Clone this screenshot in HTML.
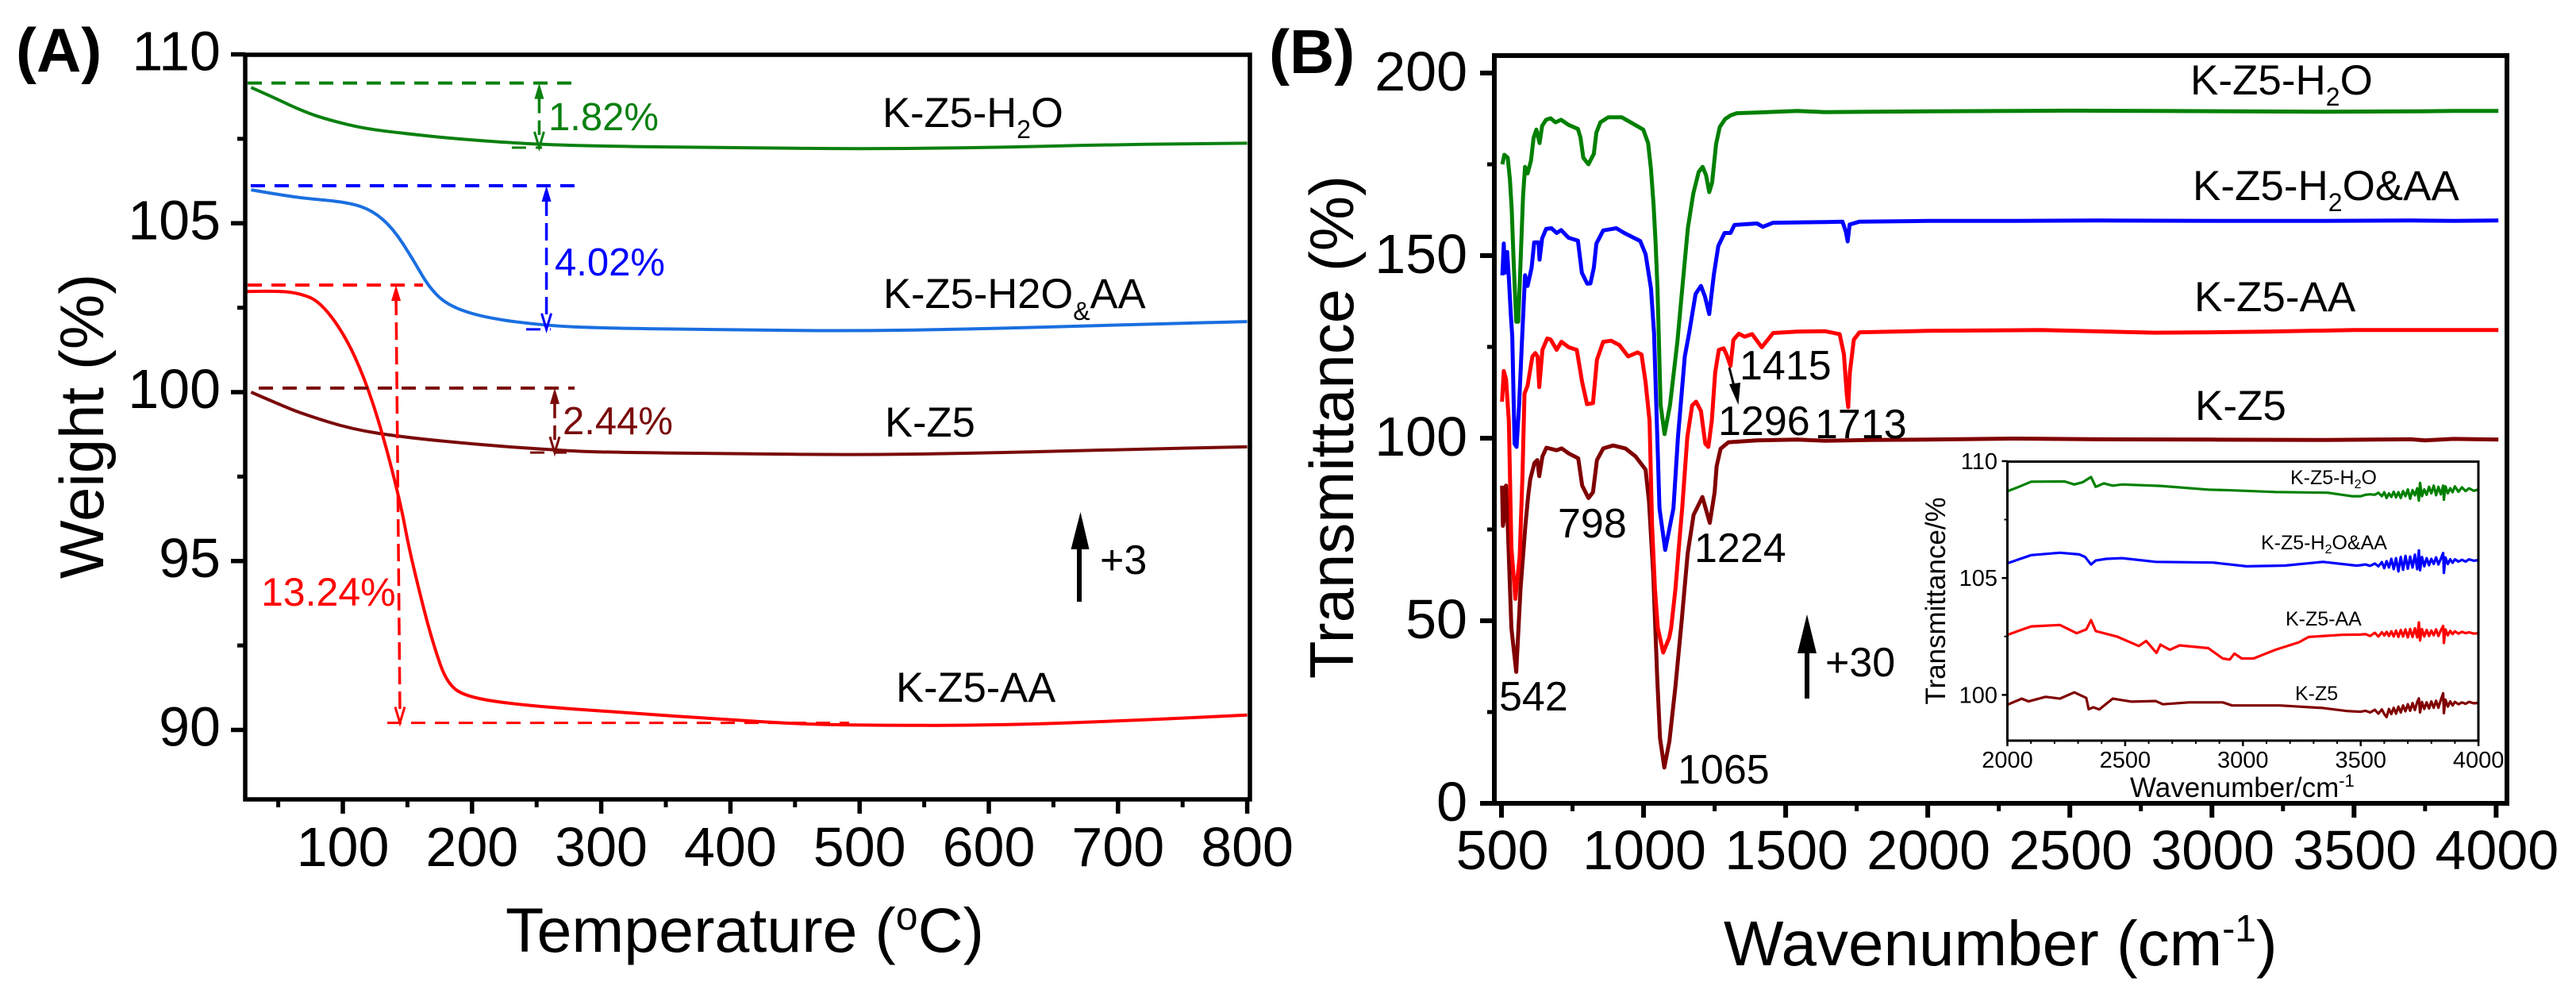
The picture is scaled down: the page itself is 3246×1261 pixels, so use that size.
<!DOCTYPE html>
<html lang="en">
<head>
<meta charset="utf-8">
<title>TGA and FTIR spectra of K-Z5 samples</title>
<style>
html,body{margin:0;padding:0;background:#fff;}
svg{display:block;}
text{font-family:"Liberation Sans",sans-serif;}
</style>
</head>
<body>
<svg id="figure" xmlns="http://www.w3.org/2000/svg" width="3246" height="1261" viewBox="0 0 3246 1261">
  <rect width="3246" height="1261" fill="#fff"/>

  <g id="panelA"></g>
  <g id="panelB"></g>
  <g id="inset"></g>

  <text x="20" y="90" font-size="78" font-weight="bold">(A)</text>
  <text x="1599" y="92" font-size="78" font-weight="bold">(B)</text>

  <text x="637" y="1199" font-size="79">Temperature (<tspan font-size="50" dy="-28">o</tspan><tspan dy="28">C)</tspan></text>
  <text transform="translate(130 537) rotate(-90)" text-anchor="middle" font-size="78">Weight (%)</text>
  <text x="2172" y="1216" font-size="80">Wavenumber (cm<tspan font-size="48" dy="-30">-1</tspan><tspan dy="30">)</tspan></text>
  <text transform="translate(1705 538) rotate(-90)" text-anchor="middle" font-size="78">Transmittance (%)</text>

  <text x="1112" y="160" font-size="52.5">K-Z5-H<tspan font-size="32" dy="14">2</tspan><tspan dy="-14">O</tspan></text>
  <text x="1113" y="388" font-size="52.5">K-Z5-H2O<tspan font-size="32" dy="15">&amp;</tspan><tspan dy="-15">AA</tspan></text>
  <text x="1115" y="550" font-size="52.5">K-Z5</text>
  <text x="1129" y="884" font-size="52.5">K-Z5-AA</text>

  <text x="691" y="164" font-size="49" fill="#0a8010">1.82%</text>
  <text x="699" y="347" font-size="49" fill="#0000ff">4.02%</text>
  <text x="709" y="547" font-size="49" fill="#7a0a0a">2.44%</text>
  <text x="329" y="763" font-size="50" fill="#ff0000">13.24%</text>

  <text x="1386" y="723" font-size="52">+3</text>
  <path d="M1360 758V685" stroke="#000" stroke-width="6" fill="none"/>
  <polygon points="1361.5,645 1372.5,692 1349.5,692" fill="#000"/>

  <text x="2760" y="119" font-size="53">K-Z5-H<tspan font-size="32" dy="14">2</tspan><tspan dy="-14">O</tspan></text>
  <text x="2763" y="252" font-size="53">K-Z5-H<tspan font-size="32" dy="14">2</tspan><tspan dy="-14">O&amp;AA</tspan></text>
  <text x="2765" y="392" font-size="53">K-Z5-AA</text>
  <text x="2766" y="529" font-size="53">K-Z5</text>

  <text x="2192" y="478" font-size="52">1415</text>
  <text x="2165" y="548" font-size="52">1296</text>
  <text x="2287" y="552" font-size="52">1713</text>
  <text x="1963" y="677" font-size="52">798</text>
  <text x="2135" y="708" font-size="52">1224</text>
  <text x="1889" y="895" font-size="52">542</text>
  <text x="2114" y="987" font-size="52">1065</text>
  <path d="M2179 463L2186 490" stroke="#000" stroke-width="3" fill="none"/>
  <polygon points="2190.5,510 2179,484 2193,482" fill="#000"/>

  <text x="2300" y="852" font-size="52">+30</text>
  <path d="M2277 880V820" stroke="#000" stroke-width="6" fill="none"/>
  <polygon points="2277,774 2289,823 2265,823" fill="#000"/>

  <text x="2684" y="1004" font-size="35">Wavenumber/cm<tspan font-size="22" dy="-13">-1</tspan></text>
  <text transform="translate(2451 757) rotate(-90)" text-anchor="middle" font-size="35">Transmittance/%</text>
  <text x="2886" y="610" font-size="25">K-Z5-H<tspan font-size="16" dy="5">2</tspan><tspan dy="-5">O</tspan></text>
  <text x="2849" y="692" font-size="25">K-Z5-H<tspan font-size="16" dy="5">2</tspan><tspan dy="-5">O&amp;AA</tspan></text>
  <text x="2880" y="788" font-size="25">K-Z5-AA</text>
  <text x="2892" y="882" font-size="25">K-Z5</text>
</svg>

<script>
// ---------- Panel A: TGA ----------
const tgaTicksX = [100,200,300,400,500,600,700,800];
const tgaMinorX = [50,150,250,350,450,550,650,750];
const tgaTicksY = [90,95,100,105,110];
const tgaMinorY = [92.5,97.5,102.5,107.5];

const tgaGreenT = [29,45,70,90,117,150,179,215,251,300,400,500,600,700,800];
const tgaGreenW = [109.02,108.75,108.3,108.05,107.8,107.65,107.53,107.42,107.34,107.28,107.24,107.2,107.24,107.33,107.37];
const tgaBlueT = [29,50,70,104,123,139,154,167,182,210,257,300,400,500,600,700,800];
const tgaBlueW = [105.99,105.85,105.74,105.62,105.38,104.84,103.95,103.08,102.55,102.2,101.97,101.9,101.84,101.81,101.88,101.99,102.09];
const tgaRedT = [26,48,66,82,101,117,131,145,151,160,170,181,198,242,314,400,450,500,600,700,800];
const tgaRedW = [102.98,103,102.93,102.69,101.73,100.4,98.75,96.65,95.42,93.97,92.53,91.33,90.95,90.72,90.52,90.3,90.18,90.14,90.13,90.26,90.44];
const tgaMaroonT = [29,50,70,107,148,210,267,300,400,500,600,700,800];
const tgaMaroonW = [100,99.65,99.34,98.9,98.66,98.43,98.28,98.22,98.18,98.14,98.2,98.3,98.38];

// mass-loss annotation levels (°C, %)
const lossNames = ['h2o','h2o-aa','aa','k-z5'];
const lossColors = ['#0a8010','#0000ff','#ff0000','#7a0a0a'];
const lossTopW = [109.15,106.11,103.17,100.12];
const lossLowW = [107.24,101.86,90.21,98.21];
const lossTopFrom = [26.3,28.7,26.3,34.9];
const lossTopTo = [279.4,279.4,162,279.4];
const lossLowFrom = [230.8,241.9,134.4,245];
const lossLowTo = [254.2,260.9,491.9,273.2];
const lossArrowTopT = [252,257.6,141.2,264];
const lossArrowLowT = [252,257.6,144.2,264];

// ---------- Panel B: FTIR ----------
const ftirTicksX = [500,1000,1500,2000,2500,3000,3500,4000];
const ftirMinorX = [750,1250,1750,2250,2750,3250,3750];
const ftirTicksY = [0,50,100,150,200];
const ftirMinorY = [25,75,125,175];

const ftirGreenWave = [503,510,522,530,536,543,552,559,567,576,583,592,604,613,623,634,643,657,673,690,710,736,769,778,788,806,825,834,848,876,923,970,999,1016,1026,1035,1042,1049,1054,1060,1074,1093,1119,1136,1156,1175,1194,1208,1220,1231,1241,1255,1268,1287,1306,1328,1399,1541,1638,1800,2000,2300,2500,2800,3100,3400,3700,3850,4008];
const ftirGreenT = [175,177.6,176.8,170.7,162.7,148,131.9,131.9,148,166.3,174.3,172.5,176,182.3,184.5,180.8,185.5,187.2,187.6,186.5,187.2,185.8,184.7,182.3,176.8,175,177.9,183.7,186.5,187.9,187.9,185.8,184.5,180.8,173.6,164.1,154,141,126.5,109.1,101.1,109.1,126.5,141,157.6,167,172.9,174.3,172,167.4,170,180.5,185.2,187.4,188.4,189,189.2,189.6,189.3,189.4,189.5,189.6,189.7,189.6,189.5,189.4,189.5,189.6,189.6];

const ftirBlueWave = [503,508,512,520,526,533,538,546,553,562,573,583,592,606,615,630,634,643,657,676,694,710,736,769,783,802,813,825,834,858,904,932,988,1007,1026,1037,1043,1050,1056,1076,1105,1121,1145,1160,1183,1202,1216,1231,1247,1263,1285,1306,1320,1399,1420,1456,1638,1700,1712,1718,1725,1760,2000,2300,2600,3000,3400,3700,3850,4008];
const ftirBlueT = [144.6,153.3,145.3,151,143.8,133.7,127.9,98.5,97.6,109.1,127.9,144.6,141.7,146.7,153.6,153.6,148.9,154.7,157.3,157.5,156.2,157,154.9,154.1,145.3,142.3,142.4,146.7,153.3,156.9,157.5,156.2,154,150.4,141,128.6,113.6,95.8,80.8,69.4,80.8,100.3,122.4,128.6,139.5,141.7,138.8,134,144.6,152.6,156.2,156.2,158.4,158.8,157.9,159,159.2,159.3,156.5,153.9,158.5,159.3,159.5,159.5,159.6,159.5,159.5,159.6,159.5,159.6];

const ftirRedWave = [502,508,516,526,535,549,564,574,581,592,609,619,627,633,644,661,673,694,711,737,765,784,801,822,836,858,886,915,946,979,993,1007,1021,1030,1040,1050,1069,1090,1097,1112,1128,1136,1154,1171,1185,1202,1217,1228,1240,1252,1265,1282,1292,1306,1316,1335,1356,1382,1416,1456,1541,1638,1690,1705,1715,1720,1726,1740,1760,2000,2400,2800,3000,3190,3500,3800,4008];
const ftirRedT = [110,118.4,116.2,104.7,70,56,67.5,90,112.2,114.4,122.4,123.3,122.4,114,124.2,127.3,127,124.2,126.4,124.9,124.2,115.3,109.3,109.6,121.5,126.4,126.7,125.5,122.4,123.5,122.9,115.3,104.7,76,58.7,48,41.3,45.3,48,58.7,73.7,81,100.3,109,110,107.4,98.5,97.6,104.7,118,124.2,124.6,122.9,119.8,126.9,128.6,127.8,128.5,124.9,128.8,129.2,129.3,128.5,123,112,108.5,118,127,129,129.4,129.6,128.9,129,129.2,129.6,129.6,129.6];

const ftirMaroonWave = [502,505,509,516,522,535,552,567,584,594,601,616,626,633,644,658,694,712,737,770,784,806,822,836,858,893,936,972,1007,1019,1034,1048,1058,1073,1091,1112,1134,1155,1176,1207,1233,1250,1257,1271,1299,1399,1541,1638,1800,2000,2300,2600,3000,3400,3700,3750,3850,4008];
const ftirMaroonT = [87,76,78,87,76,48,36,58.7,76,84.3,88.7,93.2,94,89.6,95,97.4,96.7,97.2,95.8,94.5,87,83.6,85.2,94,97.2,98,97.2,95,91.4,82.6,63,34.6,17.8,9.8,17,32,49.8,68.4,79,83.9,76.8,85.2,92.3,97.1,98.9,99.4,99.6,99.3,99.5,99.6,99.9,99.7,99.6,99.5,99.7,99.4,99.8,99.6];

// ---------- Inset: FTIR 2000-4000 ----------
const insetTicksX = [2000,2500,3000,3500,4000];
const insetMinorX = [2100,2200,2300,2400,2600,2700,2800,2900,3100,3200,3300,3400,3600,3700,3800,3900];
const insetTicksY = [100,105,110];
const insetMinorY = [102.5,107.5];

const insetGreenBodyWave = [2000,2041,2101,2243,2284,2320,2355,2375,2410,2447,2487,2650,2853,2954,3137,3360,3462];
const insetGreenBodyT = [108.71,108.87,109.12,109.13,109,109.1,109.32,108.9,109.05,108.95,109,108.94,108.78,108.75,108.68,108.65,108.5];
const insetBlueBodyWave = [2000,2101,2223,2305,2330,2355,2375,2420,2487,2630,2873,3015,3177,3340,3482];
const insetBlueBodyT = [105.63,105.98,106.08,106.01,105.9,105.58,105.75,105.82,105.85,105.69,105.66,105.5,105.53,105.69,105.53];
const insetRedBodyWave = [2000,2101,2223,2294,2335,2355,2375,2467,2558,2589,2633,2650,2690,2731,2853,2914,2944,2964,2995,3045,3137,3238,3279,3421];
const insetRedBodyT = [102.57,102.93,102.99,102.64,102.8,103.2,102.73,102.49,102.09,102.31,101.8,102.15,101.93,102.12,102,101.56,101.51,101.77,101.56,101.56,101.93,102.25,102.48,102.57];
const insetMaroonBodyWave = [2000,2061,2090,2162,2223,2284,2335,2345,2365,2390,2447,2528,2629,2660,2771,2914,2954,3157,3340,3441];
const insetMaroonBodyT = [99.58,99.84,99.72,99.92,99.84,100.11,99.87,99.39,99.47,99.38,99.84,99.71,99.74,99.6,99.68,99.68,99.55,99.55,99.44,99.31];

const insetTailWave = [3500,3520,3540,3560,3575,3590,3600,3610,3620,3630,3640,3650,3660,3670,3680,3690,3700,3710,3720,3730,3740,3747,3752,3760,3770,3780,3790,3800,3810,3820,3830,3840,3850,3853,3860,3870,3880,3890,3900,3915,3930,3945,3960,3980,4000];
const insetGreenTailT = [108.50,108.56,108.58,108.56,108.65,108.50,108.67,108.42,108.62,108.47,108.69,108.45,108.67,108.42,108.72,108.50,108.79,108.39,108.76,108.54,108.84,108.31,109.07,108.50,108.79,108.56,108.90,108.62,108.95,108.54,108.90,108.58,108.95,108.35,108.92,108.62,108.84,108.67,108.92,108.69,108.88,108.72,108.84,108.73,108.79];
const insetBlueTailT = [105.55,105.58,105.52,105.62,105.5,105.68,105.42,105.72,105.45,105.82,105.38,105.85,105.28,105.9,105.35,105.95,105.4,105.92,105.45,106.0,105.38,106.18,105.33,105.9,105.5,105.85,105.55,105.82,105.6,105.88,105.58,105.82,106.07,105.22,105.88,105.6,105.8,105.65,105.8,105.7,105.78,105.7,105.8,105.74,105.77];
const insetRedTailT = [102.58,102.6,102.52,102.66,102.5,102.68,102.54,102.7,102.52,102.72,102.5,102.75,102.48,102.78,102.5,102.8,102.46,102.82,102.48,102.85,102.46,103.1,102.33,102.82,102.5,102.78,102.52,102.75,102.55,102.8,102.52,102.76,102.95,102.22,102.8,102.55,102.74,102.6,102.72,102.62,102.7,102.64,102.68,102.62,102.64];
const insetMaroonTailT = [99.28,99.32,99.25,99.36,99.2,99.38,99.18,99.05,99.4,99.18,99.45,99.2,99.5,99.25,99.55,99.3,99.6,99.32,99.65,99.35,99.7,99.85,99.25,99.7,99.4,99.68,99.42,99.72,99.45,99.75,99.45,99.78,100.07,99.22,99.8,99.5,99.72,99.55,99.7,99.6,99.68,99.62,99.7,99.64,99.66];

// ---------- Axis functions ----------
const xA = t => 432 + (t - 100) * 1.628;
const yA = w => 494 - (w - 100) * 42.55;
const xB = k => 1892 + (k - 500) * 0.3581;
const yB = v => 1012 - v * 4.6;
const xI = k => 2529.5 + (k - 2000) * 0.2968;
const yI = v => 875.4 - (v - 100) * 29.45;

const NS = 'http://www.w3.org/2000/svg';
function mk(parent, tag, attrs) {
  const el = document.createElementNS(NS, tag);
  for (const k in attrs) el.setAttribute(k, attrs[k]);
  parent.appendChild(el);
  return el;
}
function polyD(xs, ys, fx, fy) {
  return xs.map((v, i) => (i ? 'L' : 'M') + fx(v).toFixed(1) + ' ' + fy(ys[i]).toFixed(1)).join('');
}
function smoothD(xs, ys, fx, fy) {
  const px = xs.map(fx), py = ys.map(fy);
  let d = 'M' + px[0].toFixed(1) + ' ' + py[0].toFixed(1);
  for (let i = 1; i < px.length - 1; i++) {
    const mx = (px[i] + px[i + 1]) / 2, my = (py[i] + py[i + 1]) / 2;
    d += 'Q' + px[i].toFixed(1) + ' ' + py[i].toFixed(1) + ' ' + mx.toFixed(1) + ' ' + my.toFixed(1);
  }
  return d + 'L' + px[px.length - 1].toFixed(1) + ' ' + py[py.length - 1].toFixed(1);
}

const panelA = document.getElementById('panelA');
const panelB = document.getElementById('panelB');
const inset = document.getElementById('inset');

// ---------- Panel A marks ----------
const tgaPaths = [
  [tgaMaroonT, tgaMaroonW, '#7a0a0a', 'tga-line-k-z5'],
  [tgaRedT, tgaRedW, '#ff0000', 'tga-line-k-z5-aa'],
  [tgaBlueT, tgaBlueW, '#1a6fe0', 'tga-line-k-z5-h2o-aa'],
  [tgaGreenT, tgaGreenW, '#0a8010', 'tga-line-k-z5-h2o']
];
tgaPaths.forEach(s => {
  const el = mk(panelA, 'path', {d: smoothD(s[0], s[1], xA, yA), fill: 'none', stroke: s[2], 'stroke-width': 4, 'stroke-linejoin': 'round'});
  
  
});

lossNames.forEach((n, i) => {
  const c = lossColors[i];
  const g = mk(panelA, 'g', {stroke: c, 'stroke-width': 4, fill: 'none'});
  
  
  mk(g, 'path', {d: 'M' + xA(lossTopFrom[i]) + ' ' + yA(lossTopW[i]) + 'H' + xA(lossTopTo[i]), 'stroke-dasharray': '18 12'});
  mk(g, 'path', {d: 'M' + xA(lossLowFrom[i]) + ' ' + yA(lossLowW[i]) + 'H' + xA(lossLowTo[i]), 'stroke-dasharray': '18 12', 'stroke-width': 3});
  const ax1 = xA(lossArrowTopT[i]), ay1 = yA(lossTopW[i]), ax2 = xA(lossArrowLowT[i]), ay2 = yA(lossLowW[i]);
  mk(g, 'path', {d: 'M' + ax1 + ' ' + (ay1 + 16) + 'L' + ax2 + ' ' + (ay2 - 16), 'stroke-dasharray': '22 9', 'stroke-width': 3.5});
  mk(g, 'polygon', {points: ax1 + ',' + ay1 + ' ' + (ax1 + 6) + ',' + (ay1 + 20) + ' ' + (ax1 - 6) + ',' + (ay1 + 20), fill: c, stroke: 'none'});
  mk(g, 'polyline', {points: (ax2 - 6) + ',' + (ay2 - 20) + ' ' + ax2 + ',' + ay2 + ' ' + (ax2 + 6) + ',' + (ay2 - 20), 'stroke-width': 3});
});

const frameA = mk(panelA, 'rect', {x: 309, y: 69, width: 1266, height: 938, fill: 'none', stroke: '#000', 'stroke-width': 5.5});



tgaTicksX.forEach(t => {
  const tick = mk(panelA, 'path', {d: 'M' + xA(t) + ' 1007v18', stroke: '#000', 'stroke-width': 5.5});
  
  
  const lab = mk(panelA, 'text', {x: xA(t), y: 1091, 'font-size': 70, 'text-anchor': 'middle'});
  lab.textContent = t;
  
  
});
tgaMinorX.forEach(t => {
  const tick = mk(panelA, 'path', {d: 'M' + xA(t) + ' 1007v10', stroke: '#000', 'stroke-width': 5});
  
  
});
tgaTicksY.forEach(w => {
  const tick = mk(panelA, 'path', {d: 'M309 ' + yA(w) + 'h-18', stroke: '#000', 'stroke-width': 5.5});
  
  
  const lab = mk(panelA, 'text', {x: 278, y: yA(w) + 20, 'font-size': 70, 'text-anchor': 'end'});
  lab.textContent = w;
  
  
});
tgaMinorY.forEach(w => {
  const tick = mk(panelA, 'path', {d: 'M309 ' + yA(w) + 'h-10', stroke: '#000', 'stroke-width': 5});
  
  
});

// ---------- Panel B marks ----------
const ftirPaths = [
  [ftirMaroonWave, ftirMaroonT, '#800000', 'ftir-line-k-z5'],
  [ftirRedWave, ftirRedT, '#ff0000', 'ftir-line-k-z5-aa'],
  [ftirBlueWave, ftirBlueT, '#0000ff', 'ftir-line-k-z5-h2o-aa'],
  [ftirGreenWave, ftirGreenT, '#008000', 'ftir-line-k-z5-h2o']
];
ftirPaths.forEach(s => {
  const el = mk(panelB, 'path', {d: polyD(s[0], s[1], xB, yB), fill: 'none', stroke: s[2], 'stroke-width': 5, 'stroke-linejoin': 'round'});
  
  
});

const frameB = mk(panelB, 'rect', {x: 1883, y: 70, width: 1276, height: 942, fill: 'none', stroke: '#000', 'stroke-width': 6});



ftirTicksX.forEach(k => {
  const tick = mk(panelB, 'path', {d: 'M' + xB(k) + ' 1012v18', stroke: '#000', 'stroke-width': 6});
  
  
  const lab = mk(panelB, 'text', {x: xB(k) + 1, y: 1095, 'font-size': 70, 'text-anchor': 'middle'});
  lab.textContent = k;
  
  
});
ftirMinorX.forEach(k => {
  const tick = mk(panelB, 'path', {d: 'M' + xB(k) + ' 1012v10', stroke: '#000', 'stroke-width': 5});
  
  
});
ftirTicksY.forEach(v => {
  const tick = mk(panelB, 'path', {d: 'M1883 ' + yB(v) + 'h-18', stroke: '#000', 'stroke-width': 6});
  
  
  const lab = mk(panelB, 'text', {x: 1849, y: yB(v) + 22, 'font-size': 70, 'text-anchor': 'end'});
  lab.textContent = v;
  
  
});
ftirMinorY.forEach(v => {
  const tick = mk(panelB, 'path', {d: 'M1883 ' + yB(v) + 'h-9', stroke: '#000', 'stroke-width': 5});
  
  
});

// ---------- Inset marks ----------
const insetPaths = [
  [insetMaroonBodyWave, insetMaroonBodyT, insetMaroonTailT, '#800000', 'inset-line-k-z5'],
  [insetRedBodyWave, insetRedBodyT, insetRedTailT, '#ff0000', 'inset-line-k-z5-aa'],
  [insetBlueBodyWave, insetBlueBodyT, insetBlueTailT, '#0000ff', 'inset-line-k-z5-h2o-aa'],
  [insetGreenBodyWave, insetGreenBodyT, insetGreenTailT, '#008000', 'inset-line-k-z5-h2o']
];
insetPaths.forEach(s => {
  const waves = s[0].concat(insetTailWave);
  const vals = s[1].concat(s[2]);
  const el = mk(inset, 'path', {d: polyD(waves, vals, xI, yI), fill: 'none', stroke: s[3], 'stroke-width': 3.2, 'stroke-linejoin': 'round'});
  
  
});

const frameI = mk(inset, 'rect', {x: 2529.5, y: 581.5, width: 593.5, height: 351.5, fill: 'none', stroke: '#000', 'stroke-width': 3});



insetTicksX.forEach(k => {
  const tick = mk(inset, 'path', {d: 'M' + xI(k) + ' 933v7', stroke: '#000', 'stroke-width': 2.5});
  
  
  const lab = mk(inset, 'text', {x: xI(k), y: 967, 'font-size': 29, 'text-anchor': 'middle'});
  lab.textContent = k;
  
  
});
insetMinorX.forEach(k => {
  const tick = mk(inset, 'path', {d: 'M' + xI(k) + ' 933v4', stroke: '#000', 'stroke-width': 2});
  
  
});
insetTicksY.forEach(v => {
  const tick = mk(inset, 'path', {d: 'M2529.5 ' + yI(v) + 'h-7', stroke: '#000', 'stroke-width': 2.5});
  
  
  const lab = mk(inset, 'text', {x: 2517, y: yI(v) + 10, 'font-size': 29, 'text-anchor': 'end'});
  lab.textContent = v;
  
  
});
insetMinorY.forEach(v => {
  const tick = mk(inset, 'path', {d: 'M2529.5 ' + yI(v) + 'h-4', stroke: '#000', 'stroke-width': 2});
  
  
});
</script>
</body>
</html>
